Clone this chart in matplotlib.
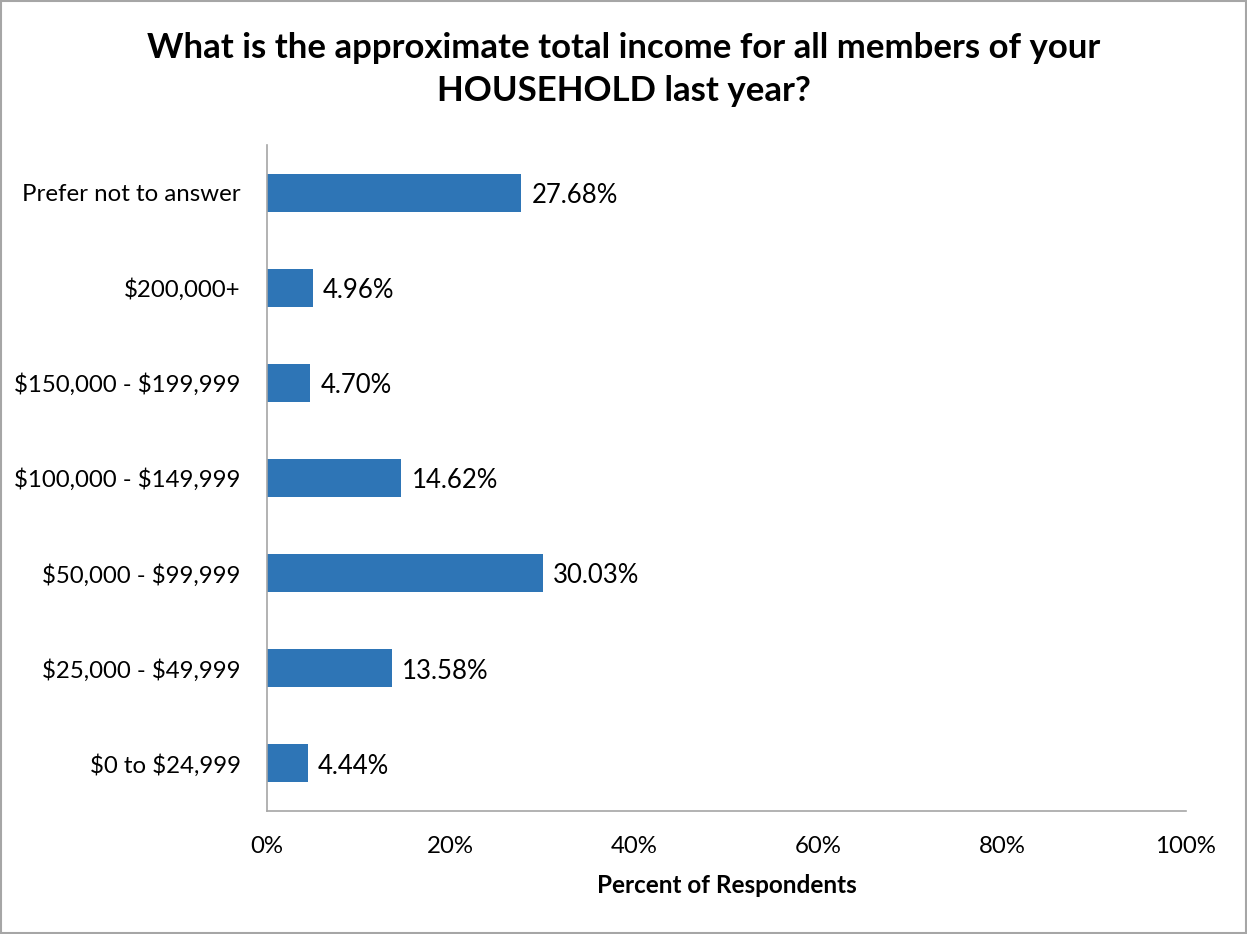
import matplotlib
matplotlib.use("Agg")
import matplotlib.pyplot as plt
from matplotlib.patches import Rectangle
from matplotlib.ticker import FuncFormatter

plt.rcParams["font.family"] = ["Lato", "DejaVu Sans"]
plt.rcParams["text.parse_math"] = False

CATEGORIES = [
    "$0 to $24,999",
    "$25,000 - $49,999",
    "$50,000 - $99,999",
    "$100,000 - $149,999",
    "$150,000 - $199,999",
    "$200,000+",
    "Prefer not to answer",
]
PERCENTS = [4.44, 13.58, 30.03, 14.62, 4.70, 4.96, 27.68]
XTICKS = [0, 20, 40, 60, 80, 100]

BAR_COLOR = "#2E75B6"
AXIS_COLOR = "#A6A6A6"

fig = plt.figure(figsize=(12.47, 9.34), dpi=100)
ax = fig.add_axes([0.2141, 0.1317, 0.7369, 0.7131])

ypos = list(range(len(CATEGORIES)))
ax.barh(ypos, PERCENTS, height=0.4, color=BAR_COLOR)

for y, v in zip(ypos, PERCENTS):
    ax.text(v + 1.1, y - 0.03, f"{v:.2f}%", va="center", ha="left", fontsize=18.5, color="black")

ax.set_xlim(0, 100)
ax.set_ylim(-0.5, len(CATEGORIES) - 0.5)
ax.set_xticks(XTICKS)
ax.xaxis.set_major_formatter(FuncFormatter(lambda v, _: f"{v:.0f}%"))
ax.set_yticks(ypos)
ax.set_yticklabels(CATEGORIES)
ax.tick_params(axis="both", length=0, labelsize=17.3, colors="black")
ax.tick_params(axis="x", pad=18)
ax.tick_params(axis="y", pad=19)

for side in ["top", "right"]:
    ax.spines[side].set_visible(False)
for side in ["left", "bottom"]:
    ax.spines[side].set_color(AXIS_COLOR)
    ax.spines[side].set_linewidth(1.2)

ax.set_xlabel("Percent of Respondents", fontsize=17.5, fontweight="bold", labelpad=12)

fig.text(0.5, 0.926, "What is the approximate total income for all members of your\nHOUSEHOLD last year?",
         ha="center", va="center", fontsize=25, fontweight="bold", linespacing=1.42)

fig.patches.append(Rectangle((0.001, 0.001), 0.998, 0.998, transform=fig.transFigure,
                             fill=False, edgecolor=AXIS_COLOR, linewidth=1.5))

fig.savefig("out.png", dpi=100, facecolor="white")
